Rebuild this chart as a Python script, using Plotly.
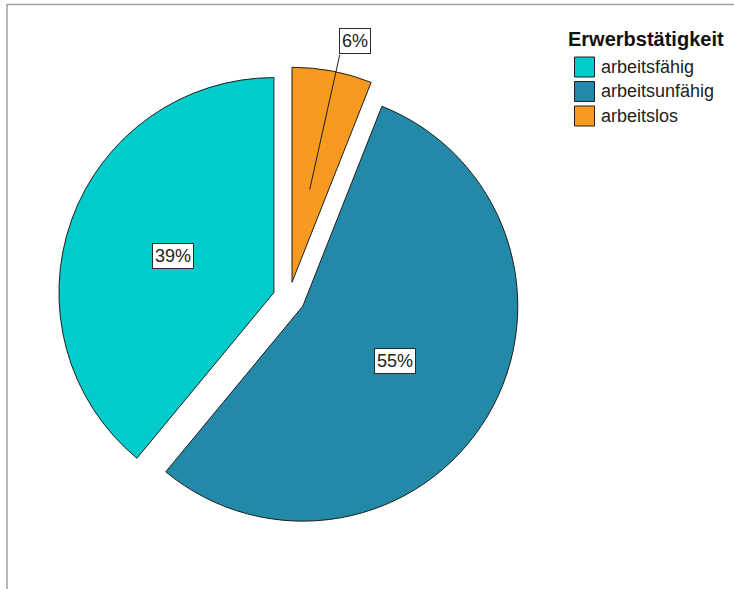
import math
import plotly.graph_objects as go

# Employment status shares (percent)
categories = ["arbeitsfähig", "arbeitsunfähig", "arbeitslos"]
shares = [39, 55, 6]
colors = ["#00CCCC", "#2389A9", "#F89A1F"]
legend_title = "Erwerbstätigkeit"

# Page size and pie placement (pixels)
W, H = 734, 589
CX_PX, CY_PX = 289, 298
HALF_BOX = 231
PULL = 0.0745
FONT = "Liberation Sans, Arial, sans-serif"

dom_x = [(CX_PX - HALF_BOX) / W, (CX_PX + HALF_BOX) / W]
dom_y = [1 - (CY_PX + HALF_BOX) / H, 1 - (CY_PX - HALF_BOX) / H]
R = HALF_BOX / (1 + PULL)  # plotly shrinks the radius to make room for the pull
TOTAL = sum(shares)

# plotly lays the first counter-clockwise slice out on the clockwise side of
# the rotation angle, so rotate back by its sweep to start it at 12 o'clock
ROTATION = -360 * shares[0] / TOTAL


def px_to_paper(x, y):
    return x / W, 1 - y / H


def slice_point(idx, dist):
    """Pixel point at `dist` px from the pie centre along the bisector of slice idx."""
    start = sum(shares[:idx]) / TOTAL
    mid = start + shares[idx] / TOTAL / 2
    theta = 2 * math.pi * mid  # counter-clockwise from 12 o'clock
    return CX_PX - math.sin(theta) * dist, CY_PX - math.cos(theta) * dist


fig = go.Figure(
    go.Pie(
        labels=categories,
        values=shares,
        sort=False,
        direction="counterclockwise",
        rotation=ROTATION,
        pull=[PULL] * len(shares),
        marker=dict(colors=colors, line=dict(color="#1e1e1e", width=1)),
        textinfo="none",
        domain=dict(x=dom_x, y=dom_y),
        showlegend=False,
        hovertemplate="%{label}: %{percent}<extra></extra>",
    )
)

annotations = []
shapes = []
label_box = dict(
    bgcolor="white",
    bordercolor="#2a2a2a",
    borderwidth=1,
    borderpad=2,
    font=dict(family=FONT, size=18, color="#222222"),
    showarrow=False,
    xref="paper",
    yref="paper",
    xanchor="center",
    yanchor="middle",
)

for i, v in enumerate(shares):
    text = f"{v / TOTAL * 100:.0f}%"
    if v / TOTAL >= 0.1:
        lx, ly = slice_point(i, (PULL + 0.5) * R)
        px, py = px_to_paper(lx, ly)
        annotations.append(dict(x=px, y=py, text=text, **label_box))
    else:
        # small slice: label sits outside with a leader line into the slice
        tx, ty = slice_point(i, (PULL + 0.44) * R)
        lx, ly = tx + 45, ty - 148
        px, py = px_to_paper(lx, ly)
        annotations.append(dict(x=px, y=py, text=text, **label_box))
        x0, y0 = px_to_paper(tx, ty)
        x1, y1 = px_to_paper(lx - 15, ly + 13.5)
        shapes.append(dict(type="line", xref="paper", yref="paper",
                           x0=x0, y0=y0, x1=x1, y1=y1,
                           line=dict(color="#1e1e1e", width=1)))

# Legend drawn as swatches and text
tx_, ty_ = px_to_paper(566, 38.5)
annotations.append(dict(x=tx_, y=ty_, xref="paper", yref="paper", text=f"<b>{legend_title}</b>",
                        showarrow=False, xanchor="left", yanchor="middle",
                        font=dict(family=FONT, size=20, color="#111111")))
for i, (name, col) in enumerate(zip(categories, colors)):
    cy = 67 + 24.5 * i
    sx0, sy0 = px_to_paper(574.5, cy - 10)
    sx1, sy1 = px_to_paper(594.5, cy + 10)
    shapes.append(dict(type="rect", xref="paper", yref="paper",
                       x0=sx0, y0=sy0, x1=sx1, y1=sy1,
                       fillcolor=col, line=dict(color="#1e1e1e", width=1)))
    lx, ly = px_to_paper(599, cy)
    annotations.append(dict(x=lx, y=ly, xref="paper", yref="paper", text=name,
                            showarrow=False, xanchor="left", yanchor="middle",
                            font=dict(family=FONT, size=18, color="#222222")))

# Gray frame along the left and top edges
fx, fy_top = px_to_paper(7, 4.5)
shapes.append(dict(type="path", xref="paper", yref="paper",
                   path=f"M {fx},-0.05 L {fx},{fy_top} L 1.05,{fy_top}",
                   line=dict(color="#a0a0a0", width=1.5)))

fig.update_layout(
    width=W,
    height=H,
    margin=dict(l=0, r=0, t=0, b=0),
    paper_bgcolor="white",
    plot_bgcolor="white",
    annotations=annotations,
    shapes=shapes,
)

fig.write_html("out.html")
